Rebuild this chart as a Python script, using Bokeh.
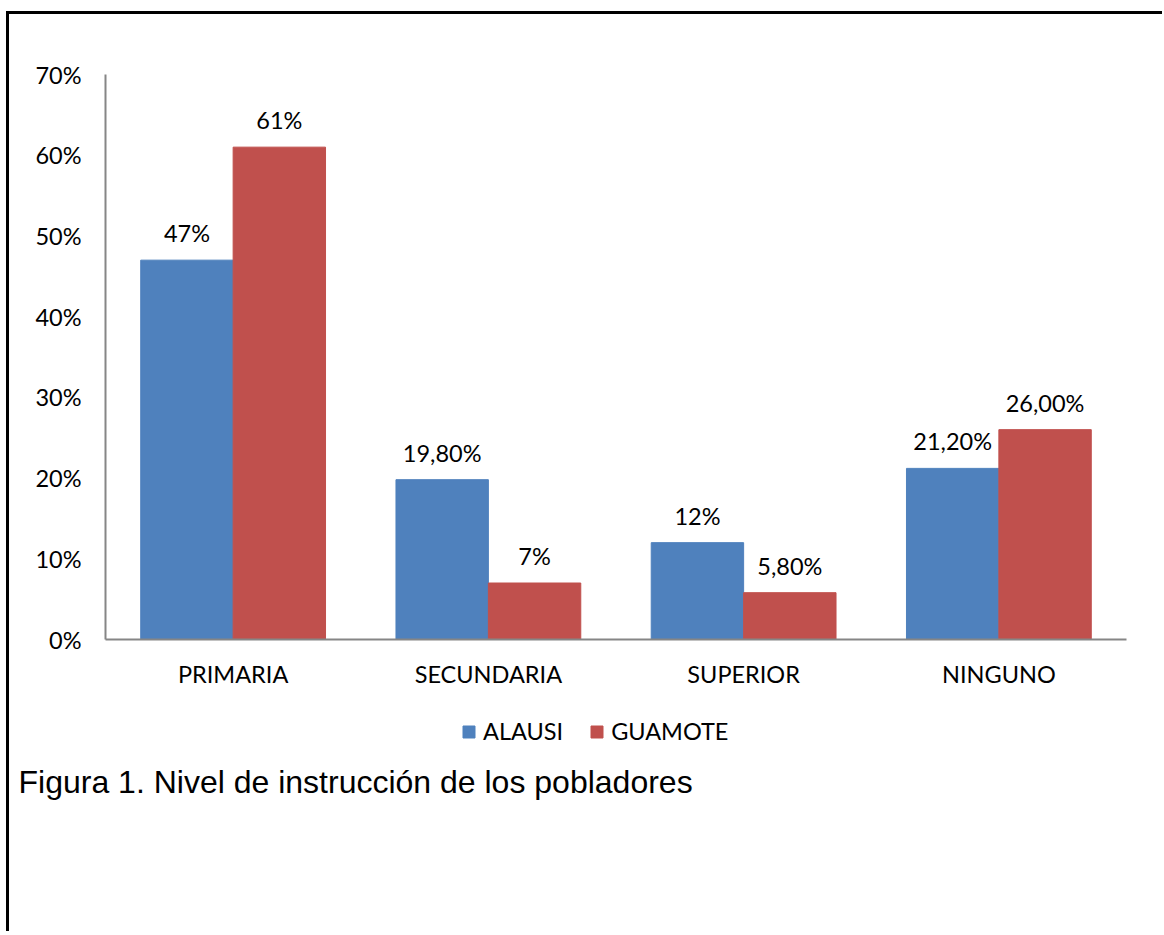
import numpy as np
from bokeh.plotting import figure
from bokeh.layouts import column
from bokeh.models import (ColumnDataSource, FactorRange, Range1d, SingleIntervalTicker,
                          PrintfTickFormatter, Legend, LegendItem, Label)
from bokeh.transform import dodge
from bokeh.core.properties import value
from bokeh.embed import file_html
from bokeh.resources import INLINE

# ---- data ----
categories = ["PRIMARIA", "SECUNDARIA", "SUPERIOR", "NINGUNO"]
series_names = ["ALAUSI", "GUAMOTE"]
alausi = [47, 19.8, 12, 21.2]
guamote = [61, 7, 5.8, 26]
alausi_labels = ["47%", "19,80%", "12%", "21,20%"]
guamote_labels = ["61%", "7%", "5,80%", "26,00%"]
y_max = 70
y_step = 10
caption = "Figura 1. Nivel de instrucción de los pobladores"

BLUE = "#4F81BD"
RED = "#C0504D"
AXIS = "#868686"
FONT = "Lato"
FS = "23.5px"
W = 1153

src = ColumnDataSource(dict(cat=categories, a=alausi, g=guamote,
                            al=alausi_labels, gl=guamote_labels))

# ---- chart ----
p = figure(width=W, height=685, x_range=FactorRange(*categories, range_padding=0),
           y_range=Range1d(0, y_max), output_backend="svg", toolbar_location=None,
           min_border_left=96, min_border_top=60, min_border_right=36, min_border_bottom=60)
p.frame_align = False
p.outline_line_color = None
p.xgrid.visible = False
p.ygrid.visible = False

bw = 0.362
p.vbar(x=dodge("cat", -bw / 2, range=p.x_range), top="a", width=bw, source=src,
       fill_color=BLUE, line_color=BLUE)
p.vbar(x=dodge("cat", bw / 2, range=p.x_range), top="g", width=bw, source=src,
       fill_color=RED, line_color=RED)

p.text(x=dodge("cat", -bw / 2, range=p.x_range), y="a", text="al", source=src,
       text_align="center", text_baseline="alphabetic", y_offset=-27,
       text_font=value(FONT), text_font_size=FS, text_color="black")
p.text(x=dodge("cat", bw / 2, range=p.x_range), y="g", text="gl", source=src,
       text_align="center", text_baseline="alphabetic", y_offset=-27,
       text_font=value(FONT), text_font_size=FS, text_color="black")

for ax in (p.xaxis[0], p.yaxis[0]):
    ax.axis_line_color = AXIS
    ax.axis_line_width = 2
    ax.major_tick_line_color = None
    ax.minor_tick_line_color = None
    ax.major_tick_out = 0
    ax.major_tick_in = 0
    ax.minor_tick_out = 0
    ax.major_label_text_font = FONT
    ax.major_label_text_font_size = FS
    ax.major_label_text_color = "black"
p.yaxis[0].ticker = SingleIntervalTicker(interval=y_step)
p.yaxis[0].formatter = PrintfTickFormatter(format="%d%%")
p.yaxis[0].major_label_standoff = 24
p.xaxis[0].major_label_standoff = 20

# ---- legend + caption strip ----
H2 = 232
q = figure(width=W, height=H2, x_range=Range1d(0, W), y_range=Range1d(0, H2),
           x_axis_type=None, y_axis_type=None, output_backend="svg", toolbar_location=None,
           min_border=0)
q.frame_align = False
q.outline_line_color = None
ka = q.vbar(x=[np.nan], top=[np.nan], width=1, fill_color=BLUE, line_color=BLUE)
kg = q.vbar(x=[np.nan], top=[np.nan], width=1, fill_color=RED, line_color=RED)
legend = Legend(items=[LegendItem(label=series_names[0], renderers=[ka]),
                       LegendItem(label=series_names[1], renderers=[kg])],
                location=(452, 186), orientation="horizontal",
                padding=0, margin=0, spacing=26, glyph_width=15, glyph_height=15,
                label_standoff=7, border_line_color=None, background_fill_alpha=0,
                label_text_font=FONT, label_text_font_size=FS, label_text_color="black")
q.add_layout(legend, "center")
q.add_layout(Label(x=9, y=150, text=caption, text_font="Liberation Sans",
                   text_font_size="32px", text_baseline="alphabetic", text_color="black"))

layout = column(p, q, spacing=0)
layout.styles = {"border-left": "3px solid black", "border-top": "3px solid black",
                 "margin-left": "6px", "margin-top": "11px"}

open("out.html", "w").write(file_html(layout, INLINE))
